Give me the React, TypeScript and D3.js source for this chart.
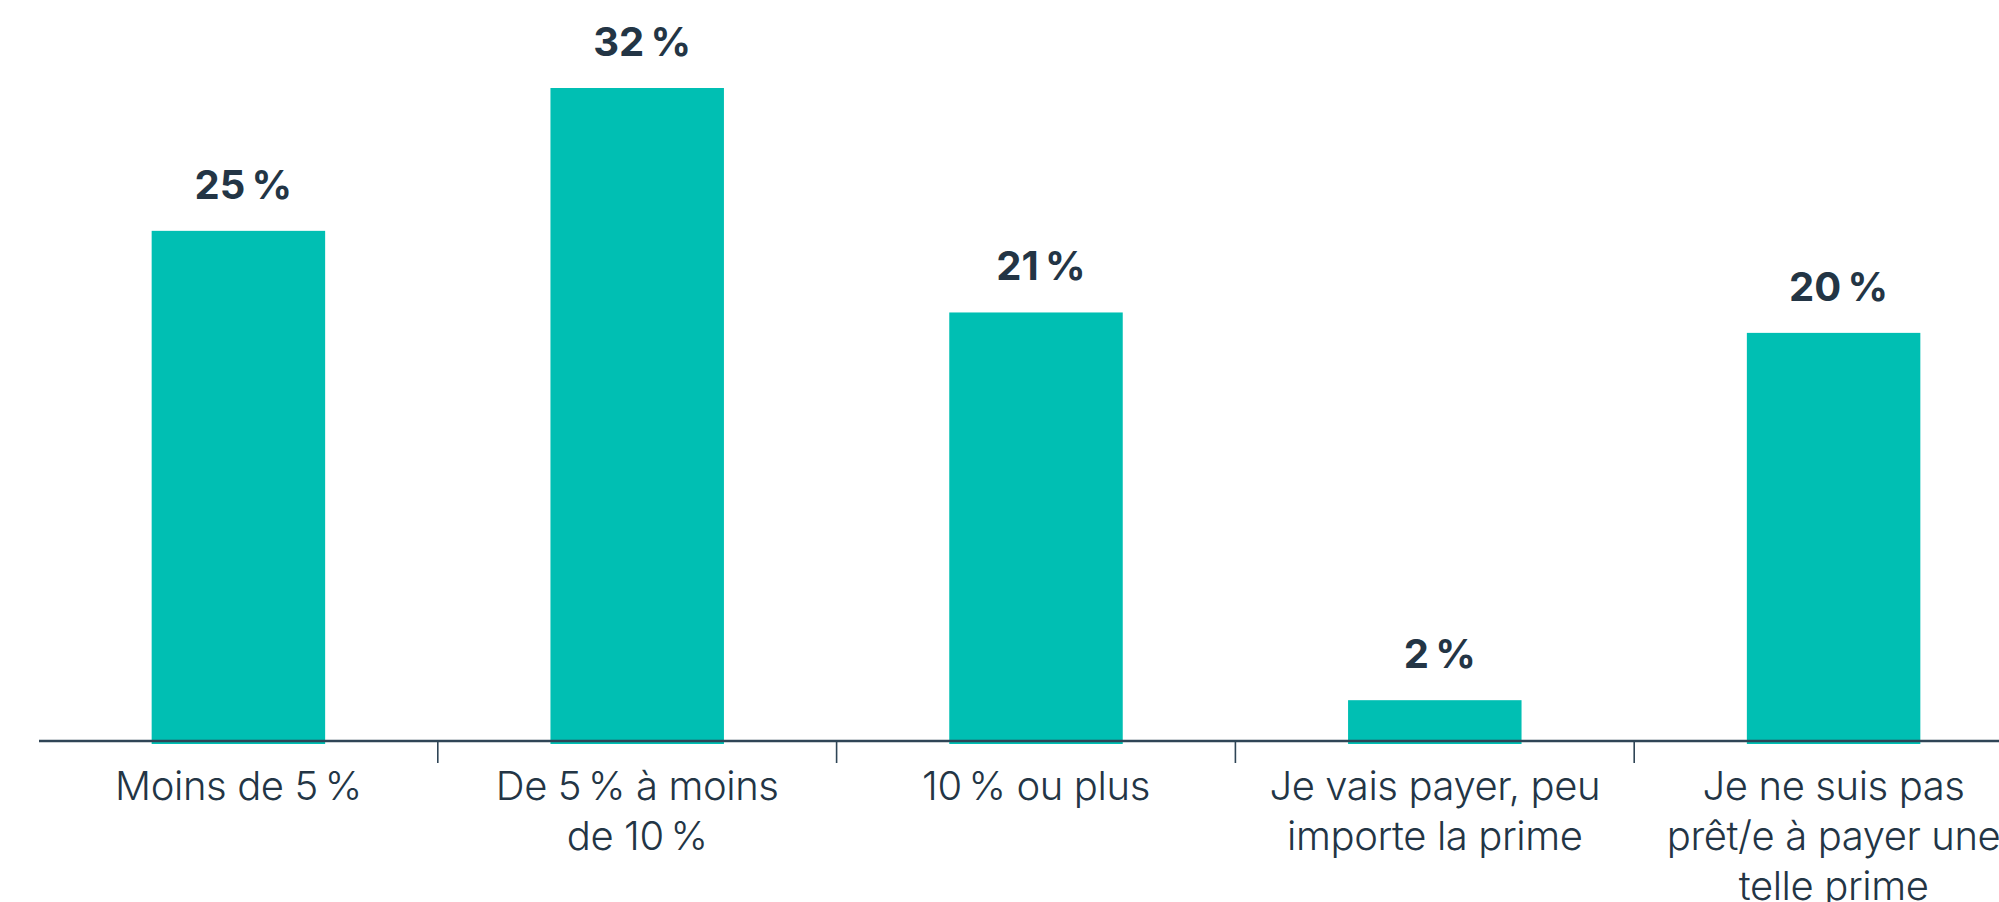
import React from "react";
import * as d3 from "d3";

const categories: string[][] = [
  ["Moins de 5\u202F%"],
  ["De 5\u202F% à moins", "de 10\u202F%"],
  ["10\u202F% ou plus"],
  ["Je vais payer, peu", "importe la prime"],
  ["Je ne suis pas", "prêt/e à payer une", "telle prime"],
];
const values: number[] = [25, 32, 21, 2, 20];
const valueLabels: string[] = ["25\u202F%", "32\u202F%", "21\u202F%", "2\u202F%", "20\u202F%"];

const W = 1999;
const H = 902;
const TEAL = "#00bfb3";
const INK = "#233545";
const AXIS = "#2f4556";
const FONT = "Inter, 'Noto Sans', sans-serif";

export default function App() {
  const keys = categories.map((_, i) => String(i));
  const x = d3
    .scaleBand<string>()
    .domain(keys)
    .range([39, 2033])
    .paddingInner(0.565)
    .paddingOuter(0.2825);
  const y = d3.scaleLinear().domain([0, 32]).range([741, 88]);
  const step = x.step();
  const bw = x.bandwidth();
  const boundaries = d3.range(1, categories.length).map((i) => x.range()[0] + i * step);

  return (
    <svg
      width={W}
      height={H}
      style={{ position: "absolute", left: 0, top: 0, background: "#fff" }}
    >
      {values.map((v, i) => (
        <rect
          key={"b" + i}
          x={x(String(i))!}
          y={y(v)}
          width={bw}
          height={y(0) - y(v) + 3}
          fill={TEAL}
        />
      ))}
      {values.map((v, i) => (
        <text
          key={"v" + i}
          x={x(String(i))! + bw / 2}
          dx={5}
          y={y(v) - 32}
          textAnchor="middle"
          fontFamily={FONT}
          fontWeight={700}
          fontSize={40}
          fill={INK}
          letterSpacing={-0.8}
        >
          {valueLabels[i]}
        </text>
      ))}
      <line x1={x.range()[0]} x2={x.range()[1]} y1={y(0)} y2={y(0)} stroke={AXIS} strokeWidth={2.4} />
      {boundaries.map((b, i) => (
        <line key={"t" + i} x1={b} x2={b} y1={y(0)} y2={y(0) + 22} stroke={AXIS} strokeWidth={1.6} />
      ))}
      {categories.map((lines, i) => (
        <text
          key={"c" + i}
          x={x(String(i))! + bw / 2}
          y={800}
          textAnchor="middle"
          fontFamily={FONT}
          fontWeight={300}
          fontSize={40}
          fill={INK}
          letterSpacing={-0.4}
        >
          {lines.map((l, j) => (
            <tspan key={j} x={x(String(i))! + bw / 2} dy={j === 0 ? 0 : 50}>
              {l}
            </tspan>
          ))}
        </text>
      ))}
    </svg>
  );
}
